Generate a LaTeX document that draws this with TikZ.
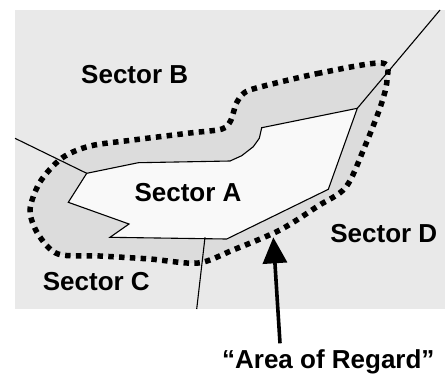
\documentclass[tikz,border=0pt]{standalone}
\usepackage{fontspec}
\setmainfont{Liberation Sans}
\usetikzlibrary{arrows.meta}

\definecolor{field}{rgb}{0.914,0.914,0.914}
\definecolor{regardfill}{rgb}{0.863,0.863,0.863}
\definecolor{sectorfill}{rgb}{0.976,0.976,0.976}

\begin{document}
\begin{tikzpicture}[
        x=1bp, y=-1bp,
        every node/.style={font=\fontsize{26bp}{30bp}\selectfont\bfseries, inner sep=0pt, anchor=base},
        border/.style={draw=black, line width=1.1bp},
        regard/.style={draw=black, line width=5.5bp, dash pattern=on 5.5bp off 5.3bp},
        pointer/.style={-{Triangle[width=24bp,length=26bp]}, line width=3.6bp}
        ]
        \useasboundingbox (0,0) rectangle (445,376);
        \fill[field] (15,10) rectangle (445,309);

        % area of regard round sector A
        \fill[regardfill] plot[smooth cycle, tension=0.5] coordinates {
            (382,63) (320,73) (260,87) (244,93) (236,104) (231,120) (222,129)
            (190,133) (133,140) (90,146) (62,158) (40,182) (30,210) (38,234)
            (58,254) (100,256) (150,259) (198,263) (233,250) (280,230) (318,206)
            (346,187) (365,146) (381,105) (387,80)};

        \filldraw[border, fill=sectorfill] (86.7,173.3) -- (138.3,162.7) -- (230,161)
            -- (241.7,155.7) -- (253.3,146.7) -- (259.3,138.3) -- (261.7,127.7)
            -- (357.3,108.3) -- (328.3,189.3) -- (226.7,239) -- (110,237.3)
            -- (129,224) -- (68.3,202.3) -- cycle;

        \coordinate (ab) at (86.7,173.3);
        \coordinate (bd) at (357.3,108.3);
        \coordinate (cd) at (205,237.3);
        \draw[border] (15,138.3) -- (ab);
        \draw[border] (440,10) -- (bd);
        \draw[border] (cd) -- (196.7,309);

        \draw[regard] plot[smooth cycle, tension=0.5] coordinates {
            (382,63) (320,73) (260,87) (244,93) (236,104) (231,120) (222,129)
            (190,133) (133,140) (90,146) (62,158) (40,182) (30,210) (38,234)
            (58,254) (100,256) (150,259) (198,263) (233,250) (280,230) (318,206)
            (346,187) (365,146) (381,105) (387,80)};

        \node (secB) at (134.7,83.3) {Sector B};
        \node (secA) at (188,201) {Sector A};
        \node (secD) at (383.8,242.7) {Sector D};
        \node (secC) at (96.3,290.7) {Sector C};
        \node (aor) at (328.3,368.3) {“Area of Regard”};

        \coordinate (tip) at (273.3,237.3);
        \coordinate (tail) at (280,343.3);
        \draw[pointer] (tail) -- (tip);
    \end{tikzpicture}
\end{document}
